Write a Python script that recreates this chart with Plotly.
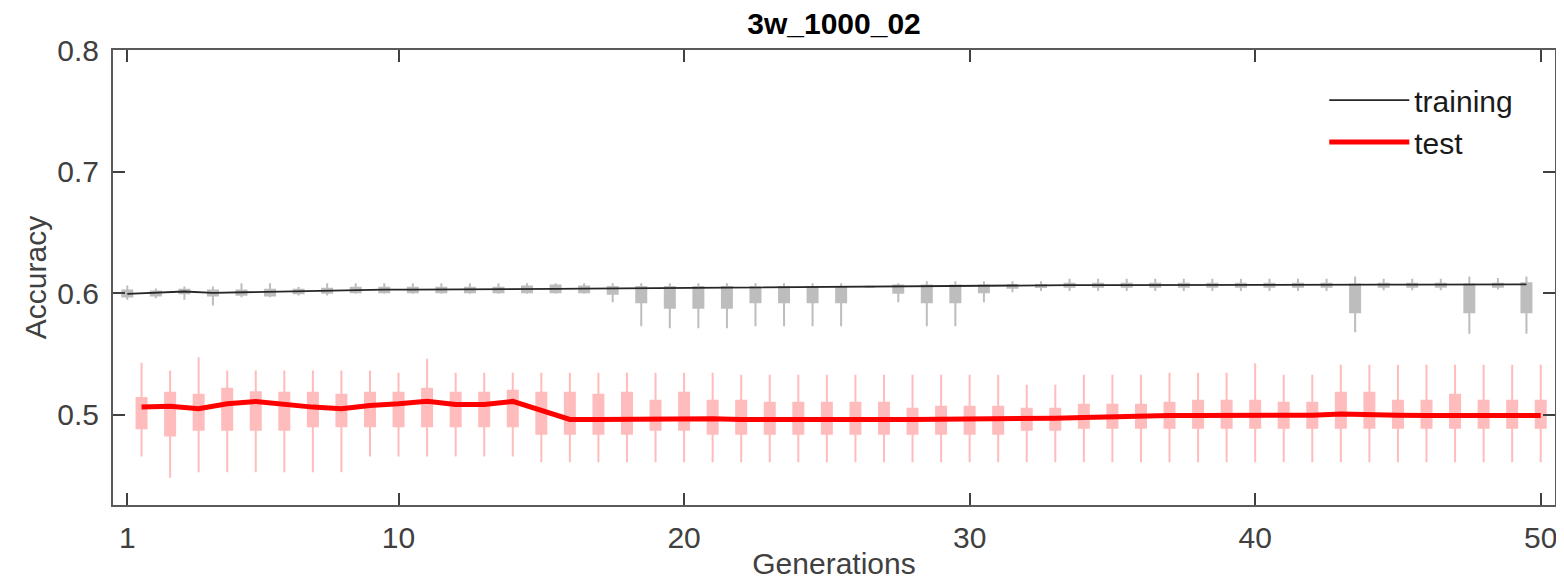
import plotly.graph_objects as go

gens = list(range(1, 51))

# ---------------- training (gray) ----------------
train_line = [0.5995, 0.6003, 0.6014, 0.6003, 0.6008, 0.6012, 0.6014, 0.6025, 0.6028, 0.6030,
              0.6030, 0.6030, 0.6030, 0.6030, 0.6033, 0.6036, 0.6038, 0.6040, 0.6042, 0.6044,
              0.6046, 0.6048, 0.6050, 0.6050, 0.6050, 0.6050, 0.6052, 0.6055, 0.6058, 0.6060,
              0.6060, 0.6062, 0.6064, 0.6066, 0.6066, 0.6067, 0.6067, 0.6068, 0.6068, 0.6068,
              0.6069, 0.6069, 0.6069, 0.6070, 0.6070, 0.6070, 0.6071, 0.6071, 0.6072, 0.6072]
train_q3 = [0.6022, 0.6014, 0.6028, 0.6022, 0.6022, 0.6028, 0.6028, 0.6036, 0.6044, 0.6044,
            0.6044, 0.6044, 0.6044, 0.6044, 0.6055, 0.6063, 0.6055, 0.6050, 0.6050, 0.6050,
            0.6050, 0.6050, 0.6050, 0.6050, 0.6050, 0.6050, 0.6050, 0.6063, 0.6063, 0.6063,
            0.6063, 0.6066, 0.6068, 0.6077, 0.6077, 0.6077, 0.6077, 0.6077, 0.6077, 0.6077,
            0.6077, 0.6077, 0.6077, 0.6072, 0.6077, 0.6077, 0.6077, 0.6072, 0.6077, 0.6082]
train_q1 = [0.5973, 0.5981, 0.6000, 0.5981, 0.5987, 0.5981, 0.6000, 0.6003, 0.6008, 0.6008,
            0.6008, 0.6008, 0.6008, 0.6008, 0.6008, 0.6008, 0.6008, 0.5995, 0.5926, 0.5880,
            0.5880, 0.5880, 0.5926, 0.5926, 0.5926, 0.5926, 0.5926, 0.6003, 0.5926, 0.5926,
            0.6008, 0.6044, 0.6050, 0.6052, 0.6052, 0.6052, 0.6052, 0.6052, 0.6052, 0.6052,
            0.6052, 0.6052, 0.6052, 0.5844, 0.6052, 0.6052, 0.6052, 0.5844, 0.6052, 0.5844]
train_hi = [0.6063, 0.6038, 0.6055, 0.6055, 0.6082, 0.6082, 0.6050, 0.6082, 0.6082, 0.6082,
            0.6082, 0.6082, 0.6082, 0.6082, 0.6082, 0.6082, 0.6082, 0.6082, 0.6082, 0.6082,
            0.6082, 0.6082, 0.6082, 0.6082, 0.6082, 0.6082, 0.6082, 0.6082, 0.6099, 0.6099,
            0.6099, 0.6099, 0.6099, 0.6118, 0.6118, 0.6118, 0.6118, 0.6118, 0.6118, 0.6118,
            0.6118, 0.6118, 0.6118, 0.6137, 0.6118, 0.6118, 0.6118, 0.6137, 0.6125, 0.6137]
train_lo = [0.5946, 0.5959, 0.5945, 0.5899, 0.5967, 0.5967, 0.5981, 0.5981, 0.5995, 0.5995,
            0.5995, 0.5995, 0.5995, 0.5995, 0.5995, 0.5995, 0.5995, 0.5926, 0.5729, 0.5712,
            0.5712, 0.5712, 0.5729, 0.5729, 0.5729, 0.5729, 0.5729, 0.5926, 0.5729, 0.5729,
            0.5926, 0.6008, 0.6017, 0.6017, 0.6017, 0.6017, 0.6017, 0.6017, 0.6017, 0.6017,
            0.6017, 0.6017, 0.6017, 0.5679, 0.6025, 0.6025, 0.6025, 0.5666, 0.6030, 0.5666]

# ---------------- test (red) ----------------
test_line = [0.5063, 0.5070, 0.5050, 0.5090, 0.5110, 0.5085, 0.5063, 0.5050, 0.5077, 0.5090,
             0.5112, 0.5085, 0.5085, 0.5110, 0.5035, 0.4962, 0.4962, 0.4966, 0.4968, 0.4968,
             0.4968, 0.4962, 0.4960, 0.4960, 0.4960, 0.4960, 0.4962, 0.4962, 0.4962, 0.4965,
             0.4968, 0.4970, 0.4972, 0.4978, 0.4985, 0.4990, 0.4994, 0.4994, 0.4994, 0.4994,
             0.4994, 0.4996, 0.5006, 0.5006, 0.4996, 0.4994, 0.4994, 0.4994, 0.4994, 0.4994]
test_q3 = [0.5137, 0.5181, 0.5164, 0.5214, 0.5186, 0.5181, 0.5181, 0.5164, 0.5181, 0.5181,
           0.5214, 0.5181, 0.5181, 0.5197, 0.5181, 0.5181, 0.5164, 0.5181, 0.5115, 0.5181,
           0.5115, 0.5115, 0.5099, 0.5099, 0.5099, 0.5099, 0.5099, 0.5049, 0.5066, 0.5066,
           0.5066, 0.5049, 0.5049, 0.5082, 0.5082, 0.5082, 0.5099, 0.5115, 0.5115, 0.5115,
           0.5099, 0.5099, 0.5181, 0.5181, 0.5115, 0.5115, 0.5164, 0.5115, 0.5115, 0.5115]
test_q1 = [0.4890, 0.4830, 0.4877, 0.4877, 0.4877, 0.4877, 0.4906, 0.4906, 0.4906, 0.4906,
           0.4906, 0.4906, 0.4906, 0.4906, 0.4844, 0.4844, 0.4844, 0.4844, 0.4877, 0.4877,
           0.4844, 0.4844, 0.4844, 0.4844, 0.4844, 0.4844, 0.4844, 0.4844, 0.4844, 0.4844,
           0.4844, 0.4877, 0.4877, 0.4893, 0.4893, 0.4893, 0.4893, 0.4893, 0.4893, 0.4893,
           0.4893, 0.4893, 0.4893, 0.4893, 0.4893, 0.4893, 0.4893, 0.4893, 0.4893, 0.4893]
test_hi = [0.5428, 0.5364, 0.5474, 0.5364, 0.5364, 0.5364, 0.5364, 0.5364, 0.5364, 0.5345,
           0.5460, 0.5345, 0.5345, 0.5345, 0.5345, 0.5345, 0.5345, 0.5345, 0.5345, 0.5345,
           0.5345, 0.5329, 0.5329, 0.5329, 0.5329, 0.5329, 0.5329, 0.5329, 0.5329, 0.5329,
           0.5329, 0.5247, 0.5247, 0.5329, 0.5329, 0.5329, 0.5345, 0.5345, 0.5345, 0.5424,
           0.5329, 0.5329, 0.5411, 0.5411, 0.5411, 0.5411, 0.5411, 0.5411, 0.5411, 0.5411]
test_lo = [0.4657, 0.4482, 0.4528, 0.4528, 0.4528, 0.4528, 0.4528, 0.4528, 0.4657, 0.4657,
           0.4657, 0.4657, 0.4657, 0.4657, 0.4610, 0.4610, 0.4610, 0.4610, 0.4610, 0.4610,
           0.4610, 0.4610, 0.4610, 0.4610, 0.4610, 0.4610, 0.4610, 0.4610, 0.4610, 0.4610,
           0.4610, 0.4610, 0.4610, 0.4610, 0.4610, 0.4610, 0.4610, 0.4610, 0.4610, 0.4610,
           0.4610, 0.4610, 0.4610, 0.4610, 0.4610, 0.4610, 0.4610, 0.4610, 0.4610, 0.4610]

tick_vals = [0.5, 10, 20, 30, 40, 50]
tick_text = ["1", "10", "20", "30", "40", "50"]
title_text = "3w_1000_02"

train_offset = -0.5
train_x = [g + train_offset for g in gens]

GRAY = "#bdbdbd"
PINK = "#ffbcbc"
FONT = "Liberation Sans, Arial, sans-serif"

fig = go.Figure()
fig.add_trace(go.Box(x=train_x, q1=train_q1, median=train_line, q3=train_q3,
                     lowerfence=train_lo, upperfence=train_hi, width=0.35,
                     fillcolor=GRAY, line=dict(color=GRAY, width=2), whiskerwidth=0,
                     boxpoints=False, showlegend=False, hoverinfo="skip"))
fig.add_trace(go.Box(x=gens, q1=test_q1, median=test_line, q3=test_q3,
                     lowerfence=test_lo, upperfence=test_hi, width=0.35,
                     fillcolor=PINK, line=dict(color=PINK, width=2), whiskerwidth=0,
                     boxpoints=False, showlegend=False, hoverinfo="skip"))
fig.add_trace(go.Scatter(x=train_x, y=train_line, mode="lines", name="training",
                         line=dict(color="#262626", width=1.8)))
fig.add_trace(go.Scatter(x=gens, y=test_line, mode="lines", name="test",
                         line=dict(color="#ff0000", width=5)))

axis_common = dict(showline=True, linecolor="#5a5a5a", linewidth=2, mirror="allticks",
                   ticks="inside", ticklen=12, tickwidth=2, tickcolor="#404040",
                   showgrid=False, zeroline=False, automargin=False,
                   tickfont=dict(family=FONT, size=30, color="#404040"))

# page has an 8px body margin, so the figure is sized to fill the rest of the window
fig.update_layout(
    width=1556, height=575,
    margin=dict(l=105, r=9, t=42, b=78, autoexpand=False),
    paper_bgcolor="white", plot_bgcolor="white",
    title=dict(text="<b>" + title_text + "</b>", x=0.5, xref="paper", xanchor="center",
               y=1 - 15 / 575, yanchor="middle",
               font=dict(family=FONT, size=30, color="black")),
    xaxis=dict(range=[0, 50.5], tickvals=tick_vals, ticktext=tick_text,
               ticklabelstandoff=5,
               title=dict(text="Generations", standoff=0,
                          font=dict(family=FONT, size=30, color="#404040")),
               **axis_common),
    yaxis=dict(range=[0.4258, 0.8], tickvals=[0.5, 0.6, 0.7, 0.8],
               ticktext=["0.5", "0.6", "0.7", "0.8"], ticklabelstandoff=6,
               title=dict(text="Accuracy", standoff=2,
                          font=dict(family=FONT, size=30, color="#404040")),
               **axis_common),
    legend=dict(x=0.840, y=0.947, xanchor="left", yanchor="top", itemwidth=80,
                bgcolor="rgba(0,0,0,0)", font=dict(family=FONT, size=30, color="#1a1a1a")),
    showlegend=True,
    boxmode="overlay",
)

fig.write_html("out.html")
